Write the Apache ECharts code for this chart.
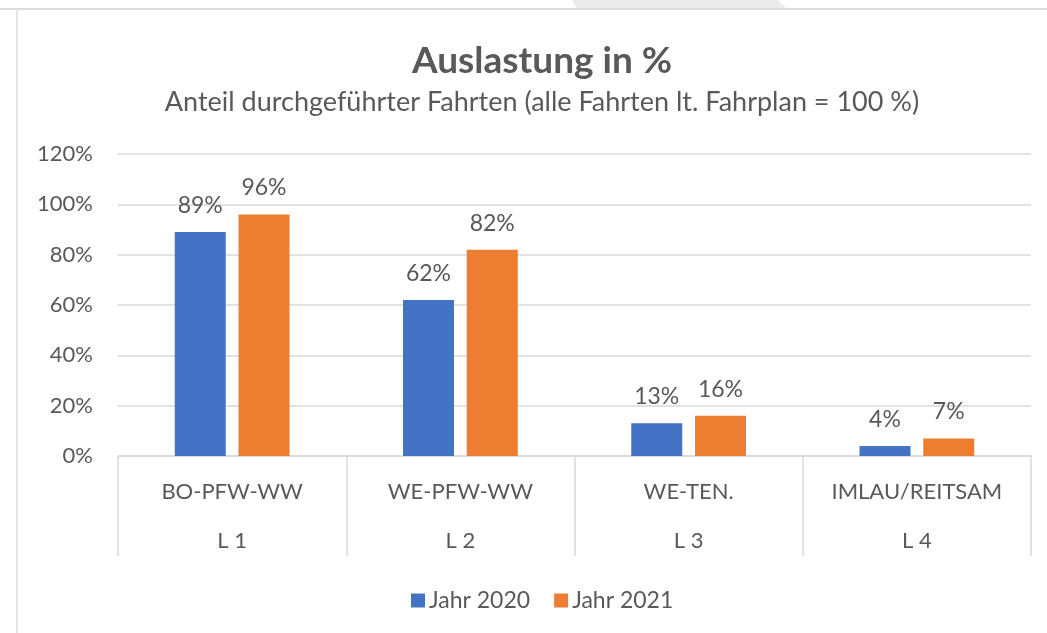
<!DOCTYPE html>
<html>
<head>
<meta charset="utf-8">
<script src="https://cdn.jsdelivr.net/npm/echarts@6/dist/echarts.min.js"></script>
<style>
html,body{margin:0;padding:0;background:#fff;}
#c{width:1047px;height:633px;}
</style>
</head>
<body>
<div id="c"></div>
<script>
const categories = ['BO-PFW-WW', 'WE-PFW-WW', 'WE-TEN.', 'IMLAU/REITSAM'];
const lines = ['L 1', 'L 2', 'L 3', 'L 4'];
const jahr2020 = [89, 62, 13, 4];
const jahr2021 = [96, 82, 16, 7];
const seriesNames = ['Jahr 2020', 'Jahr 2021'];
const titleText = 'Auslastung in %';
const subtitleText = 'Anteil durchgeführter Fahrten (alle Fahrten lt. Fahrplan = 100 %)';

const FONT = 'Lato';
const TXT = '#595959';
const chart = echarts.init(document.getElementById('c'));
chart.setOption({
  backgroundColor: '#ffffff',
  animation: false,
  graphic: [
    { type: 'polygon', shape: { points: [[572,0],[778,0],[787,9],[577,9]] }, style: { fill: '#ebebeb' }, silent: true },
    { type: 'rect', shape: { x: 0, y: 8, width: 1047, height: 2 }, style: { fill: '#dcdcdc' }, silent: true },
    { type: 'rect', shape: { x: 16, y: 9, width: 2, height: 624 }, style: { fill: '#e4e4e4' }, silent: true }
  ],
  title: [
    { text: titleText, left: 537, top: 38, textAlign: 'center',
      textStyle: { fontFamily: FONT, fontSize: 37, fontWeight: 'bold', color: TXT } },
    { text: subtitleText, left: 537, top: 84, textAlign: 'center',
      textStyle: { fontFamily: FONT, fontSize: 27, fontWeight: 'normal', color: TXT } }
  ],
  legend: {
    data: seriesNames,
    left: 406, top: 584,
    itemWidth: 14, itemHeight: 14, itemGap: 24, icon: 'rect',
    textStyle: { fontFamily: FONT, fontSize: 23, color: TXT, padding: [0,0,0,-1] }
  },
  grid: { left: 118, right: 16, top: 154, bottom: 177, containLabel: false },
  xAxis: [
    { type: 'category', data: categories, position: 'bottom',
      axisLine: { show: true, lineStyle: { color: '#d9d9d9', width: 1.5 } },
      axisTick: { show: true, length: 100, lineStyle: { color: '#d9d9d9', width: 1.5 } },
      axisLabel: { margin: 25, fontFamily: FONT, fontSize: 22, color: TXT },
      splitLine: { show: false } },
    { type: 'category', data: lines, position: 'bottom', offset: 0,
      axisLine: { show: false }, axisTick: { show: false },
      axisLabel: { margin: 74, fontFamily: FONT, fontSize: 22, color: TXT } }
  ],
  yAxis: {
    type: 'value', min: 0, max: 120, interval: 20,
    axisLine: { show: false }, axisTick: { show: false },
    axisLabel: { formatter: '{value}%', margin: 25, fontFamily: FONT, fontSize: 22, color: TXT },
    splitLine: { lineStyle: { color: '#d9d9d9', width: 1.5 } }
  },
  series: [
    { name: seriesNames[0], type: 'bar', data: jahr2020, barWidth: 51, barGap: '25%',
      itemStyle: { color: '#4472C4' },
      label: { show: true, position: 'top', distance: 15, formatter: '{c}%', fontFamily: FONT, fontSize: 23, color: TXT } },
    { name: seriesNames[1], type: 'bar', data: jahr2021, barWidth: 51, barGap: '25%',
      itemStyle: { color: '#ED7D31' },
      label: { show: true, position: 'top', distance: 15, formatter: '{c}%', fontFamily: FONT, fontSize: 23, color: TXT } }
  ]
});
</script>
</body>
</html>
